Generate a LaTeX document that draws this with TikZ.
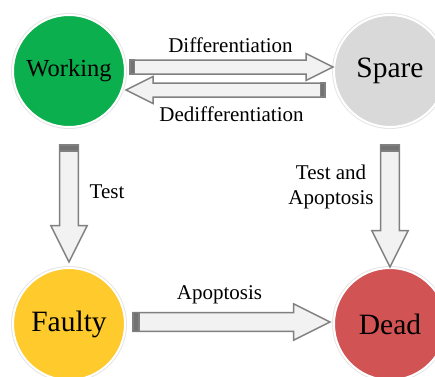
\documentclass[tikz,border=0pt]{standalone}
\usepackage{fontspec}
\setmainfont{Liberation Serif}
\usetikzlibrary{positioning, calc}

\definecolor{workgreen}{RGB}{12,175,77}
\definecolor{sparegray}{RGB}{217,217,217}
\definecolor{faultyyellow}{RGB}{255,202,44}
\definecolor{deadred}{RGB}{210,83,83}
\definecolor{arrowfill}{RGB}{242,242,242}
\definecolor{arrowline}{RGB}{128,128,128}

\tikzset{
arrowbody/.style={draw=arrowline, fill=arrowfill, line width=1.5pt, line join=miter},
arrowcap/.style={draw=arrowline, fill=arrowline!90!black, line width=1.5pt}
}

% block arrow from tail #2 to tip #3, #1 = size factor
\newcommand{\blockarr}[3][1]{%
\draw[arrowbody] let \p1=(#2), \p2=(#3), \n1={atan2(\y2-\y1,\x2-\x1)}, \n3={7*#1}, \n4={13.5*#1}, \n5={veclen(\x2-\x1,\y2-\y1)-27*#1} in
  ($(\p1)+(\n1+90:\n3)$) -- ($(\p1)+(\n1:\n5)+(\n1+90:\n3)$) -- ($(\p1)+(\n1:\n5)+(\n1+90:\n4)$)
  -- (\p2) -- ($(\p1)+(\n1:\n5)+(\n1-90:\n4)$) -- ($(\p1)+(\n1:\n5)+(\n1-90:\n3)$) -- ($(\p1)+(\n1-90:\n3)$) -- cycle;
\draw[arrowcap] let \p1=(#2), \p2=(#3), \n1={atan2(\y2-\y1,\x2-\x1)}, \n3={7*#1}, \n6={4.5*#1} in
  ($(\p1)+(\n1+90:\n3)$) -- ($(\p1)+(\n1:\n6)+(\n1+90:\n3)$) -- ($(\p1)+(\n1:\n6)+(\n1-90:\n3)$) -- ($(\p1)+(\n1-90:\n3)$) -- cycle;
}

\begin{document}
\begin{tikzpicture}[x=1pt, y=1pt,
state/.style={circle, draw=white, line width=2pt, minimum size=112pt, inner sep=0pt, preaction={draw=black!10, line width=4pt}, font=\fontsize{29.5}{31}\selectfont},
lbl/.style={font=\fontsize{21}{25}\selectfont, align=center},
node distance=139pt and 207pt
]
\clip (0,0) rectangle (435,376);
%Nodes
\node[state, fill=workgreen, font=\fontsize{24.5}{26}\selectfont] (work) at (69,305) {Working};
\node[state, fill=sparegray]    (spare)  [right=of work]  {Spare};
\node[state, fill=faultyyellow] (faulty) [below=of work]  {Faulty};
\node[state, fill=deadred]      (dead)   [below=of spare] {Dead};

%Arrow ends
\coordinate (d1) at ([xshift=4pt, yshift=4pt]work.east);
\coordinate (d2) at ([yshift=4pt]spare.west);
\coordinate (e1) at ([xshift=-8pt, yshift=-19pt]spare.west);
\coordinate (e2) at ([yshift=-19pt]work.east);
\coordinate (t1) at ([yshift=-17pt]work.south);
\coordinate (t2) at ([yshift=5pt]faulty.north);
\coordinate (s1) at ([yshift=-17pt]spare.south);
\coordinate (s2) at (dead.north);
\coordinate (a1) at ([xshift=7pt, yshift=2pt]faulty.east);
\coordinate (a2) at ([xshift=-3pt, yshift=2pt]dead.west);

%Arrows
\blockarr{d1}{d2}
\blockarr{e1}{e2}
\blockarr[1.35]{t1}{t2}
\blockarr[1.35]{s1}{s2}
\blockarr[1.35]{a1}{a2}

%Labels
\node[lbl] (difflbl)   at ($(d1)!.5!(d2)+(-1,22)$)   {Differentiation};
\node[lbl] (dedifflbl) at ($(e1)!.5!(e2)+(6,-24)$)  {Dedifferentiation};
\node[lbl] (testlbl)   at ($(t1)!.5!(t2)+(38,12)$)  {Test};
\node[lbl] (testapolbl) at ($(s1)!.5!(s2)+(-59,19)$) {Test and\\Apoptosis};
\node[lbl] (apolbl)    at ($(a1)!.5!(a2)+(-12,27)$) {Apoptosis};
\end{tikzpicture}
\end{document}
